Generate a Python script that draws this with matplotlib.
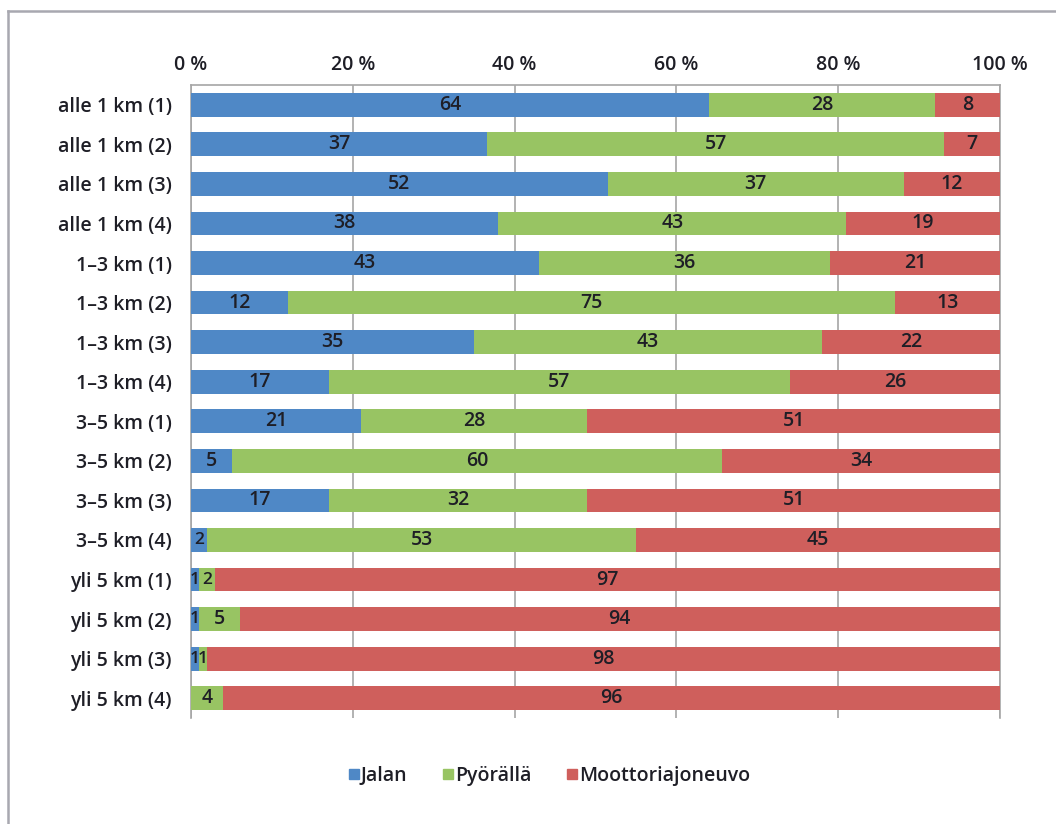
import numpy as np
import matplotlib.pyplot as plt
from matplotlib.lines import Line2D

plt.rcParams['font.family'] = ['Open Sans', 'DejaVu Sans']
plt.rcParams['font.weight'] = 'semibold'

categories = ['alle 1 km (1)', 'alle 1 km (2)', 'alle 1 km (3)', 'alle 1 km (4)',
              '1–3 km (1)', '1–3 km (2)', '1–3 km (3)', '1–3 km (4)',
              '3–5 km (1)', '3–5 km (2)', '3–5 km (3)', '3–5 km (4)',
              'yli 5 km (1)', 'yli 5 km (2)', 'yli 5 km (3)', 'yli 5 km (4)']
jalan = [64, 37, 52, 38, 43, 12, 35, 17, 21, 5, 17, 2, 1, 1, 1, 0]
pyoralla = [28, 57, 37, 43, 36, 75, 43, 57, 28, 60, 32, 53, 2, 5, 1, 4]
moottori = [8, 7, 12, 19, 21, 13, 22, 26, 51, 34, 51, 45, 97, 94, 98, 96]
series_names = ['Jalan', 'Pyörällä', 'Moottoriajoneuvo']
colors = ['#4f88c6', '#98c463', '#cf5f5c']
xticks = [0, 20, 40, 60, 80, 100]

txt = '#1e1e26'
fs = 14

data = np.array([jalan, pyoralla, moottori], dtype=float)
# 100 % stacked: each row scaled to its own total
shares = data / data.sum(axis=0) * 100

fig = plt.figure(figsize=(10.56, 8.24), dpi=100)
ax = fig.add_axes([191 / 1056, 1 - 718 / 824, 809 / 1056, 633 / 824])

y = np.arange(len(categories))
left = np.zeros(len(categories))
for vals, shr, col in zip(data, shares, colors):
    ax.barh(y, shr, left=left, height=0.6, color=col, zorder=3)
    for yi, v, l, w in zip(y, vals, left, shr):
        if v > 0:
            ax.text(l + w / 2, yi, f'{int(v)}', ha='center', va='center',
                    fontsize=fs if w > 3 else fs - 1.5, color=txt, zorder=4)
    left += shr

ax.set_xlim(0, 100)
ax.set_ylim(len(categories) - 0.5, -0.5)
ax.set_yticks(y)
ax.set_yticklabels(categories, fontsize=fs, color=txt)
ax.set_xticks(xticks)
ax.set_xticklabels([f'{t} %' for t in xticks], fontsize=fs, color=txt)
ax.xaxis.tick_top()
ax.tick_params(axis='y', length=0, pad=14)
ax.tick_params(axis='x', length=0, pad=7)
ax.grid(axis='x', color='#a6a6a6', linewidth=1.2, zorder=0)
for side, sp in ax.spines.items():
    sp.set_color('#a6a6a6')
    sp.set_linewidth(1.2)
ax.spines['bottom'].set_visible(False)

handles = [Line2D([], [], marker='s', linestyle='', markersize=6.5,
                  markerfacecolor=c, markeredgecolor=c) for c in colors]
fig.legend(handles, series_names, loc='center', bbox_to_anchor=(0.52, 1 - 776 / 824),
           ncol=3, frameon=False, fontsize=fs, handletextpad=0.05,
           columnspacing=1.8, handlelength=0.6, labelcolor=txt)

# outer frame lines (left and top only)
fig.add_artist(Line2D([8 / 1056, 8 / 1056], [0, 1 - 11 / 824], color='#a8a8b0',
                      linewidth=1.8, transform=fig.transFigure))
fig.add_artist(Line2D([8 / 1056, 1], [1 - 11 / 824, 1 - 11 / 824], color='#a8a8b0',
                      linewidth=1.8, transform=fig.transFigure))

fig.savefig('out.png', dpi=100)
